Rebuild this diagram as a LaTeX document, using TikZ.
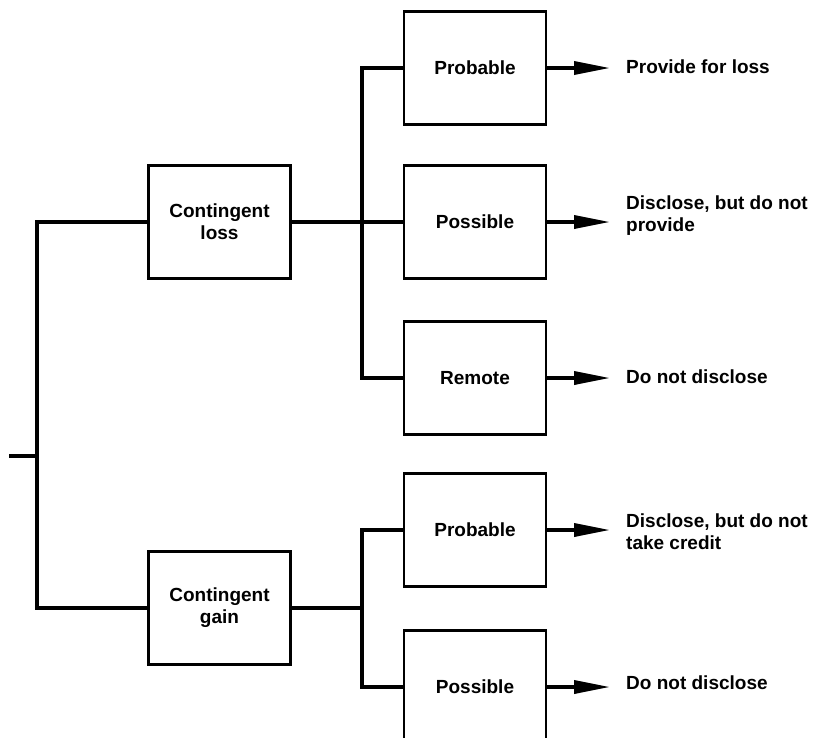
\documentclass[tikz,border=0pt]{standalone}
\usepackage{fontspec}
\setmainfont{Liberation Sans}
\usetikzlibrary{arrows.meta}

\begin{document}
\begin{tikzpicture}[
    x=1pt, y=1pt,
    every node/.style={font=\fontsize{19}{22}\selectfont\bfseries},
    box/.style={rectangle, draw, line width=2.2pt, minimum width=142pt, minimum height=113pt, align=center, inner sep=0pt},
    result/.style={anchor=west, align=left, inner sep=0pt},
    link/.style={line width=3.6pt},
    outcome/.style={line width=3.6pt, -{Triangle[length=36pt, width=13pt]}, shorten >=16pt}
]
\useasboundingbox (0,0) rectangle (814,-737);

% Nodes
\node[box] (loss) at (219.5,-222) {Contingent\\loss};
\node[box] (gain) at (219.5,-608) {Contingent\\gain};

\node[box] (lprob) at (475,-68) {Probable};
\node[box] (lposs) at (475,-222) {Possible};
\node[box] (lrem) at (475,-378) {Remote};
\node[box] (gprob) at (475,-530) {Probable};
\node[box] (gposs) at (475,-687) {Possible};

\node[result] (rlprob) at (626,-67) {Provide for loss};
\node[result] (rlposs) at (626,-216) {Disclose, but do not\\provide};
\node[result] (rlrem) at (626,-377) {Do not disclose};
\node[result] (rgprob) at (626,-532) {Disclose, but do not\\take credit};
\node[result] (rgposs) at (626,-683) {Do not disclose};

\coordinate (root) at (9,-456);
\coordinate (fork) at (37,-456);
\coordinate (lbus) at (362,-222);
\coordinate (gbus) at (362,-608);

% Edges
\draw[link] (root) -- (fork);
\draw[link] (fork) |- (loss.west);
\draw[link] (fork) |- (gain.west);

\draw[link] (loss.east) -- (lbus);
\draw[link] (lbus) |- (lprob.west);
\draw[link] (lbus) |- (lposs.west);
\draw[link] (lbus) |- (lrem.west);

\draw[link] (gain.east) -- (gbus);
\draw[link] (gbus) |- (gprob.west);
\draw[link] (gbus) |- (gposs.west);

\draw[outcome] (lprob.east) -- (lprob.east -| rlprob.west);
\draw[outcome] (lposs.east) -- (lposs.east -| rlposs.west);
\draw[outcome] (lrem.east) -- (lrem.east -| rlrem.west);
\draw[outcome] (gprob.east) -- (gprob.east -| rgprob.west);
\draw[outcome] (gposs.east) -- (gposs.east -| rgposs.west);

\end{tikzpicture}
\end{document}
